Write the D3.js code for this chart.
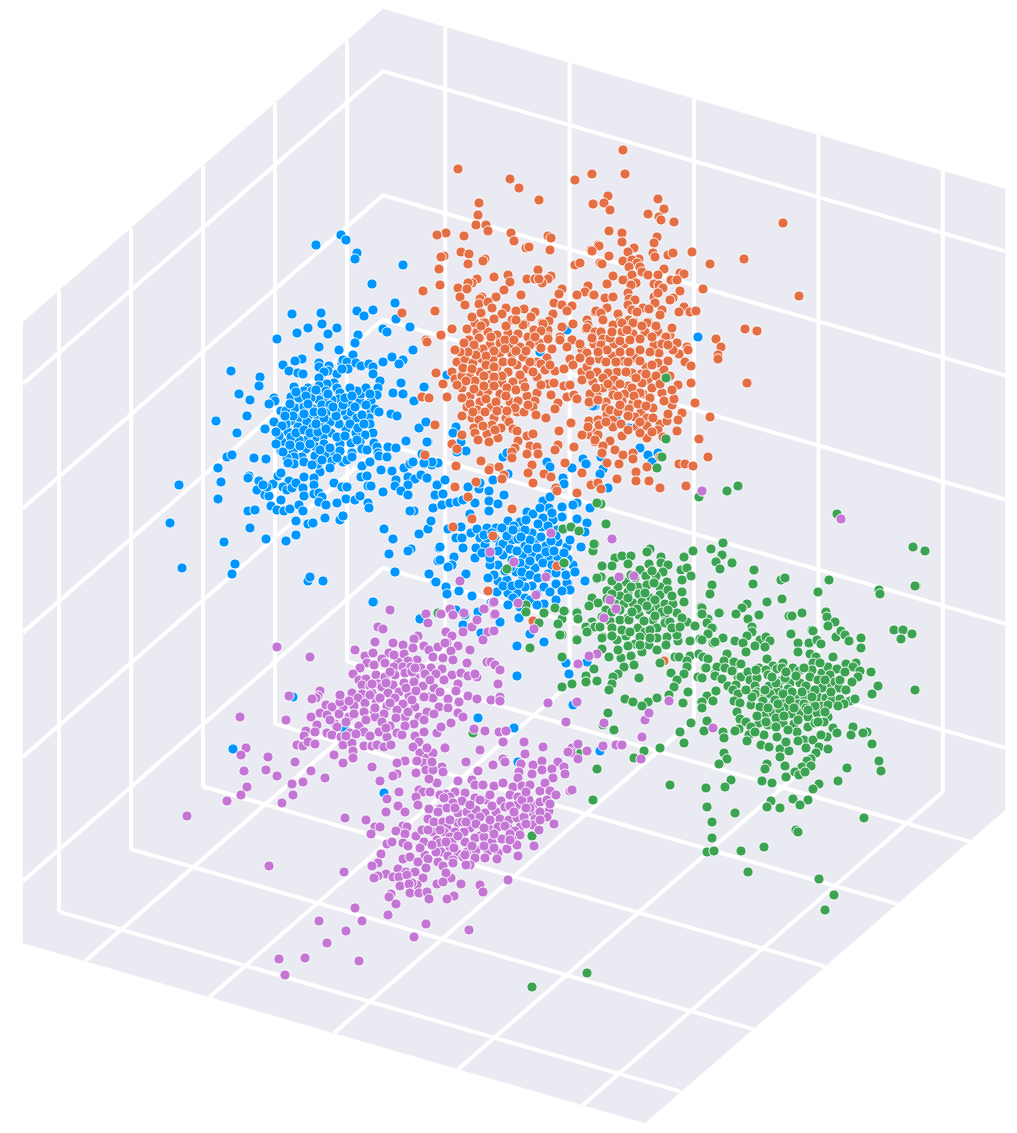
<!DOCTYPE html>
<html>
<head>
<meta charset="utf-8">
<script src="https://cdn.jsdelivr.net/npm/d3@7/dist/d3.min.js"></script>
<style>html,body{margin:0;padding:0;background:#fff}svg{display:block}</style>
</head>
<body>
<div id="chart"></div>
<script>
// Grid tick positions on each of the three box axes (box runs 0..10)
const boxDomain = [0, 10];
const ticksA = [1, 3, 5, 7, 9];
const ticksB = [1, 3, 5, 7, 9];
const ticksC = [1, 3, 5, 7, 9];

// Points as read from the projected view: [across, down] on a 1017 x 1133 plane
const bluePoints = [[316,245],[341,235],[346,240],[357,253],[355,259],[403,265],[372,284],[395,303],[357,311],[373,310],[364,316],[396,319],[292,314],[321,313],[322,324],[308,328],[297,333],[328,334],[337,328],[383,329],[387,332],[410,327],[358,335],[277,339],[355,343],[319,347],[339,350],[353,355],[413,350],[392,357],[403,360],[399,364],[383,362],[302,359],[295,361],[283,365],[231,371],[289,371],[298,373],[303,374],[319,363],[319,367],[329,366],[328,371],[324,372],[337,374],[319,378],[260,377],[259,386],[239,394],[250,400],[294,387],[291,397],[274,398],[275,401],[269,404],[281,411],[286,411],[247,416],[216,421],[274,422],[265,429],[237,433],[291,421],[342,363],[343,360],[347,362],[348,369],[342,369],[356,363],[361,366],[369,364],[373,367],[373,374],[380,381],[378,388],[377,395],[371,401],[360,401],[361,394],[366,388],[357,391],[350,388],[370,394],[349,404],[347,416],[351,412],[342,411],[371,412],[375,409],[379,412],[369,418],[357,418],[370,424],[346,429],[339,424],[330,422],[391,414],[397,416],[393,393],[401,383],[403,394],[414,401],[425,387],[426,422],[419,428],[428,442],[406,441],[373,433],[365,435],[356,433],[374,443],[388,447],[396,448],[422,454],
[334,383],[327,384],[319,386],[308,388],[304,391],[312,391],[319,393],[326,391],[337,388],[340,393],[339,399],[332,400],[325,398],[319,400],[311,398],[303,403],[299,398],[295,408],[304,407],[313,409],[322,405],[330,405],[336,410],[326,413],[318,418],[309,415],[300,418],[307,422],[298,427],[313,427],[322,427],[330,422],[331,433],[323,437],[315,438],[307,440],[299,440],[288,432],[291,437],[282,442],[281,451],[293,452],[306,449],[316,447],[324,444],[340,444],[333,453],[325,455],[315,456],[302,457],[294,457],[287,458],[340,451],[351,443],[360,442],[362,449],[352,453],[367,450],[377,447],[378,453],[357,440],
[283,452],[332,461],[330,468],[320,472],[318,464],[294,464],[288,463],[343,462],[347,460],[352,457],[362,466],[370,462],[379,456],[387,457],[381,470],[392,471],[404,468],[410,464],[413,462],[424,464],[432,465],[438,463],[361,477],[367,476],[368,486],[371,486],[383,492],[396,480],[408,477],[415,479],[427,479],[421,475],[408,485],[395,486],[401,491],[408,495],[435,496],[434,508],[438,485],[414,511],[410,511],[431,521],[428,529],[419,534],[439,548],[438,561],[411,549],[408,551],[393,539],[384,529],[389,554],[395,572],[429,574],[435,582],
[179,485],[170,523],[182,568],[218,468],[221,482],[218,499],[227,457],[232,455],[254,458],[266,459],[249,476],[248,478],[259,481],[273,484],[278,476],[281,473],[257,490],[265,495],[269,496],[267,487],[263,485],[304,477],[314,478],[314,485],[289,481],[283,487],[287,490],[292,488],[296,483],[303,488],[304,496],[314,494],[319,493],[322,497],[319,502],[326,505],[334,483],[342,487],[347,487],[346,499],[337,503],[355,500],[360,496],[368,503],[369,508],[281,500],[271,506],[277,510],[284,511],[290,509],[299,505],[303,511],[248,511],[255,510],[296,521],[308,524],[313,523],[325,518],[340,520],[343,516],[250,528],[224,542],[266,539],[286,541],[296,535],[235,564],[232,574],[308,581],[310,577],[323,581],[374,602],[420,618],
[427,478],[437,485],[445,480],[435,495],[443,494],[433,508],[442,505],[450,503],[457,502],[463,500],[468,487],[479,489],[489,491],[475,503],[489,501],[498,504],[504,495],[493,480],[470,514],[489,511],[431,521],[448,529],[461,527],[456,538],[462,538],[463,548],[440,547],[440,560],[454,557],[452,565],[448,567],[429,574],[466,574],[436,582],[446,587],[459,591],[472,596],[447,594],
[471,533],[477,529],[487,528],[480,538],[476,548],[475,558],[485,545],[487,538],[496,528],[495,538],[500,545],[508,521],[508,531],[520,522],[519,532],[532,533],[527,512],[533,514],[543,518],[543,501],[550,497],[562,507],[549,508],[562,517],[553,520],[542,527],[563,530],[557,530],[558,542],[567,547],[546,546],[535,542],[525,546],[512,540],[518,539],[503,544],[503,555],[498,565],[490,565],[523,555],[532,553],[540,558],[549,558],[535,568],[526,565],[516,572],[558,558],[573,565],[568,559],[498,581],[507,580],[523,577],[532,586],[525,587],[517,593],[508,593],[497,592],[513,598],[525,598],[544,587],[556,584],[568,583],[569,590],[585,581],[544,604],[556,600],[519,618],[500,623],[530,634],[544,642],[517,646],
[590,508],[577,519],[587,523],[581,547],[585,532],[577,503],[573,505],[698,337],[640,448],[648,455],[658,453],[652,462],[583,459],[587,464],[603,469],[600,474],[595,406],[616,417],[629,428],[645,407],[601,457],[597,483],[608,488],
[467,348],[447,375],[567,330],[424,387],[426,422],[456,427],[453,433],[461,442],[466,451],[427,442],[457,452],[432,462],[424,463],[503,457],[507,453],[547,462],[550,467],[572,468],[586,464],[563,478],[564,484],[508,474],[480,483],[555,488],[593,406],[496,404],[540,352],
[293,697],[478,718],[373,602],[500,622],[481,633],[478,612],[491,603],[465,615],[463,625],[456,610],[420,619],[384,793],[518,762],[344,728],[233,749],[517,676],[566,663],[569,674],[587,662],[600,751],[514,728],[573,705],[581,547],[567,583],[570,590]];

const blueCore = [[296,392],[306,396],[316,390],[328,394],[343,405],[336,416],[324,418],[314,412],[304,414],[293,416],[286,424],[296,433],[304,430],[310,433],[318,432],[326,429],[337,437],[345,436],[350,424],[358,428],[362,415],[355,407],[300,446],[310,444],[320,450],[330,448],[290,445],[279,436],[285,416],[290,404],[316,424],[308,404],[322,412],[333,407],[345,398],[352,396],[366,405],[364,424],[304,462],[312,465],[322,460],[337,458],[282,426],[276,444],[276,432],
[484,535],[492,533],[502,528],[514,526],[525,530],[538,524],[548,526],[556,536],[551,541],[541,537],[530,540],[521,537],[507,536],[498,551],[510,549],[517,551],[528,549],[537,548],[546,552],[554,551],[564,553],[570,540],[512,560],[520,563],[530,561],[543,563],[552,565],[562,566],[505,571],[511,567],[522,572],[530,575],[538,578],[548,574],[556,573],[566,575],[575,572],[503,586],[512,586],[519,584],[537,594],[550,592],[562,591],[513,530],[526,520],[552,513],[540,508],[490,558],[482,553],[494,575],[488,578],[530,600],[537,605],[520,607],[508,605]];

const orangePoints = [[458,169],[510,179],[519,188],[539,200],[575,180],[591,174],[594,204],[479,203],[478,215],[476,225],[486,225],[488,231],[446,233],[437,235],[464,236],[511,233],[514,241],[548,236],[551,238],[550,250],[526,248],[529,247],[591,250],[598,245],[461,252],[469,254],[444,256],[441,257],[485,259],[483,261],[468,264],[439,269],[575,265],[580,263],[600,263],[538,270],[508,275],[494,277],[527,279],[551,276],[548,279],[542,283],[535,279],[539,279],[510,282],[477,279],[472,283],[468,283],[440,285],[458,288],[467,289],[423,291],[504,290],[562,289],[559,294],[588,286],[585,292],[577,295],[593,295],[521,295],[460,297],[496,297],[482,297],[480,299],[479,304],[488,302],[465,305],[554,303],[562,305],[572,306],[506,308],[535,312],[524,309],[516,311],[481,313],[435,311],[402,313],[567,311],[553,314],[595,312],[492,308],[502,314],[512,320],[525,324],[542,323],[549,321],[534,330],[573,324],[587,320],[586,329],[597,332],[476,323],[484,322],[467,330],[452,329],[441,336],[426,340],[477,332],[488,332],[498,335],[508,333],[518,334],[528,337],[548,330],[548,337],[572,339],[560,337],[469,339],[480,338],
[623,150],[625,174],[592,174],[608,196],[604,203],[593,204],[610,210],[658,199],[664,209],[648,214],[659,217],[661,220],[674,222],[783,223],[609,231],[622,233],[622,242],[657,237],[654,243],[599,246],[592,251],[634,248],[628,252],[653,253],[655,257],[609,256],[623,261],[602,264],[639,259],[668,255],[673,253],[692,252],[710,264],[744,259],[632,260],[637,263],[629,267],[640,267],[642,272],[648,275],[664,269],[658,275],[613,276],[680,273],[684,274],[671,280],[677,280],[628,279],[623,280],[632,275],[636,283],[631,285],[654,284],[659,285],[663,288],[607,284],[703,289],[680,291],[799,296],[594,295],[605,298],[613,297],[628,293],[629,299],[635,300],[654,297],[658,293],[673,298],[670,300],[655,303],[628,305],[607,308],[684,307],[679,312],[690,312],[696,311],[662,310],[660,315],[643,308],[649,309],[632,310],[637,312],[618,314],[596,311],[601,313],[603,320],[620,322],[629,320],[634,322],[648,322],[656,326],[595,331],[601,331],[613,330],[622,332],[633,333],[645,332],[658,332],[672,328],[670,335],[665,337],[745,329],[756,331],[716,339],[603,338],
[441,335],[452,329],[427,342],[469,340],[479,338],[467,329],[475,323],[485,323],[497,335],[508,333],[518,334],[534,330],[523,325],[543,324],[562,327],[573,324],[597,333],[588,325],[560,340],[572,340],[548,339],[539,343],[530,345],[520,347],[510,347],[500,343],[490,345],[483,349],[475,349],[457,362],[465,359],[473,363],[482,359],[493,359],[500,353],[512,354],[523,357],[537,362],[547,358],[541,364],[567,347],[570,359],[582,350],[593,344],[582,372],[592,381],[597,372],[555,371],[564,369],[573,365],[452,372],[436,373],[455,379],[462,376],[470,377],[480,372],[489,375],[497,367],[508,372],[517,365],[527,369],[537,377],[523,381],[513,382],[502,383],[492,383],[482,381],[443,384],[462,388],[470,396],[480,392],[488,391],[500,394],[510,402],[518,401],[527,396],[537,393],[535,401],[447,397],[422,397],[429,398],[462,398],[467,407],[480,402],[477,410],[491,407],[500,410],[517,412],[524,412],[533,407],[536,415],[548,384],[554,383],[564,386],[570,385],[551,395],[558,403],[555,409],[567,397],[574,395],[577,399],[590,403],[597,394],[472,418],[479,420],[494,418],[506,418],[509,422],[492,425],[501,428],[474,428],[475,433],[487,434],[498,438],[489,442],[478,440],[546,418],[513,429],[517,431],[435,425],[462,435],[452,444],[457,449],[425,455],[527,436],[533,434],[518,441],[559,431],[571,423],[589,421],[588,427],[582,435],[590,435],[597,432],[595,442],[558,445],[555,450],[574,447],[530,446],[537,447],[515,448],[512,452],[527,454],[538,454],[512,458],[456,466],[481,461],[490,468],[499,467],[504,475],[502,479],[532,465],[528,473],[544,474],[551,477],[533,483],[565,463],[582,473],[591,484],[476,482],[556,488],[455,487],
[587,328],[595,332],[601,332],[613,325],[622,323],[633,323],[647,323],[656,326],[672,328],[745,329],[757,331],[716,339],[721,347],[718,355],[718,359],[666,337],[677,343],[687,347],[688,350],[679,354],[685,362],[691,366],[673,350],[668,361],[659,353],[654,345],[645,332],[633,334],[624,344],[614,344],[603,339],[594,344],[587,353],[599,359],[612,356],[623,361],[635,358],[646,367],[658,363],[661,373],[648,380],[641,374],[632,373],[617,372],[608,373],[597,372],[587,367],[582,380],[593,382],[603,388],[613,389],[628,386],[642,383],[652,388],[662,393],[678,385],[691,383],[747,383],[643,394],[625,394],[613,395],[590,394],[589,402],[606,402],[606,408],[622,401],[622,408],[633,403],[641,412],[653,408],[672,405],[674,399],[695,403],[682,413],[710,417],[607,415],[629,409],[635,417],[647,418],[589,421],[598,420],[599,425],[613,420],[613,427],[621,424],[637,427],[647,426],[660,424],[667,421],[678,420],[658,430],[677,431],[582,435],[588,427],[598,435],[595,440],[610,441],[622,436],[647,438],[663,437],[699,439],[603,446],[615,450],[602,453],[623,455],[633,453],[633,459],[607,463],[619,464],[647,467],[660,457],[708,457],[679,464],[685,464],[693,466],[582,473],[636,472],[617,479],[636,481],[649,481],[591,485],[598,483],[660,488],[686,486],
[468,497],[512,509],[472,519],[453,527],[493,536],[488,591],[557,566],[533,621],[557,491],[577,493],[601,489],[489,470],[664,661]];

const orangeCore = [[472,317],[481,326],[494,319],[506,326],[516,320],[531,317],[541,331],[491,337],[474,345],[505,340],[514,340],[535,337],[526,351],[516,351],[505,349],[494,351],[486,356],[476,355],[468,352],[460,352],[463,368],[472,369],[486,365],[494,367],[503,362],[512,362],[530,362],[545,370],[533,372],[520,375],[502,376],[494,377],[484,376],[475,381],[466,381],[457,385],[474,389],[484,386],[494,386],[507,388],[516,390],[525,387],[541,385],[470,404],[486,399],[496,402],[506,396],[515,408],[528,405],[485,412],[497,411],[507,411],[473,412],[462,416],[483,426],[495,430],[455,350],[464,343],[541,348],[552,349],[550,365],
[592,338],[601,345],[610,338],[620,341],[630,340],[640,339],[652,337],[662,344],[650,352],[640,350],[630,352],[620,352],[607,350],[598,352],[590,361],[606,362],[616,362],[628,362],[640,361],[652,365],[664,370],[670,376],[656,376],[646,374],[636,378],[626,372],[614,380],[603,378],[596,388],[608,384],[620,384],[632,388],[640,393],[650,398],[660,384],[664,401],[634,396],[618,396],[598,400],[610,410],[618,412],[628,416],[640,422],[653,418],[620,405],[638,404],[646,406],[606,422],[628,430],[640,433],[652,432],[668,345],[627,330],[642,326],[612,332],[580,358],[590,375],[580,344],[672,390],[668,414]];

const greenPoints = [[595,544],[593,551],[565,563],[650,549],[647,552],[615,558],[622,556],[631,556],[693,551],[711,549],[723,543],[722,555],[716,561],[732,562],[684,557],[661,557],[661,563],[668,565],[602,566],[612,566],[628,564],[649,564],[640,570],[663,572],[681,570],[687,568],[691,576],[602,577],[597,579],[646,576],[656,576],[626,582],[667,582],[682,580],[712,585],[635,578],[638,587],[647,585],[660,587],[607,590],[618,587],[682,592],[710,594],[628,592],[639,594],[650,598],[660,595],[592,598],[598,603],[620,596],[615,604],[624,604],[633,603],[642,602],[657,607],[665,604],[673,604],[684,602],[589,606],[606,610],[565,611],[577,612],[578,619],[701,607],[701,614],[720,613],[736,614],[677,613],[628,618],[639,615],[650,610],[665,615],[620,620],[610,621],[602,617],[653,620],[687,622],[682,618],[708,619],[562,619],[592,622],[587,627],[595,627],[612,628],[629,620],[638,628],[657,628],[665,623],[695,626],[713,628],[588,632],[603,637],[562,635],[617,640],[626,636],[635,644],[628,646],[657,638],[667,637],[678,641],[690,641],[677,635],[700,639],[708,633],[723,638],[716,642],[713,643],[735,641],[577,639],[602,649],[642,652],[649,645],[657,650],[666,645],[675,657],[679,657],[690,656],[699,654],[704,657],[727,654],[725,660],[737,664],[609,657],[631,656],[621,658],[660,663],[634,665],[624,667],[687,661],[687,667],[698,677],[705,668],[717,667],[715,674],[725,668],[733,669],[722,679],[728,686],[735,690],[738,677],[594,669],[562,657],[671,673],[684,674],[586,676],[586,682],[597,681],[572,684],[562,687],[618,674],[613,677],[612,684],[609,690],[639,678],[677,680],[674,687],[716,691],[688,692],[707,696],[669,695],[657,698],[648,702],[625,699],[633,702],[642,706],[683,703],[701,702],[713,701],[734,701],
[601,504],[597,503],[606,524],[594,544],[563,529],[571,527],[579,531],[507,569],[564,563],[602,566],[601,577],[597,578],[526,605],[526,612],[544,613],[555,608],[564,611],[577,613],[578,619],[539,623],[558,624],[560,635],[577,640],[530,648],[592,598],[598,603],[589,606],[586,627],[593,628],[607,591],[595,627],[602,638],[587,632],[666,378],[666,439],[662,457],[657,468],[738,486],[727,491],[699,497],
[716,562],[720,569],[732,563],[754,570],[712,585],[710,594],[753,584],[781,580],[785,578],[829,580],[818,592],[879,590],[880,594],[916,586],[767,602],[782,599],[747,604],[742,608],[702,608],[702,614],[719,613],[736,614],[759,615],[789,616],[792,616],[802,613],[826,612],[827,617],[835,622],[828,626],[748,619],[707,623],[712,628],[708,634],[702,640],[752,627],[752,632],[747,636],[791,634],[812,630],[813,631],[836,637],[841,631],[845,635],[849,641],[861,638],[894,630],[903,630],[912,634],[901,639],[723,638],[715,642],[735,641],[743,643],[760,640],[766,637],[770,641],[755,646],[765,647],[798,643],[809,643],[817,640],[821,644],[861,648],[746,652],[798,652],[810,654],[816,657],[813,663],[833,657],[703,657],[708,659],[727,654],[724,661],[734,662],[741,664],[767,659],[783,663],[773,666],[846,664],[856,663],[853,667],[860,671],[871,672],[858,677],[852,682],[878,686],[915,690],[872,694],[706,668],[717,667],[725,668],[732,671],[715,676],[722,679],[702,678],[741,677],[748,672],[759,668],[766,670],[777,669],[782,668],[793,668],[799,671],[812,670],[822,673],[828,667],[837,669],[830,675],[750,680],[757,678],[768,675],[782,680],[790,683],[800,683],[810,677],[818,680],[831,685],[835,682],[839,688],[728,686],[736,685],[755,686],[769,686],[778,687],[788,689],[810,692],[822,688],[716,691],[733,690],[738,694],[757,692],[777,692],[707,696],[762,699],[770,694],[783,700],[797,697],[805,698],[818,697],[826,698],[832,700],[840,699],[850,701],[855,699],[844,704],[702,702],[713,701],[734,701],[740,703],[751,705],[763,701],[773,704],[787,707],[798,704],[812,704],[822,706],[828,705],[702,708],[737,712],[766,714],[773,713],[780,710],[792,714],[801,713],[817,713],[808,717],[828,717],[707,721],[740,719],[746,722],[774,723],[759,723],[768,725],[783,723],[794,724],[808,727],[815,723],[824,722],[751,727],[833,728],[853,727],[739,729],[735,731],[704,731],[723,732],[724,738],[749,735],[747,741],[797,732],[837,733],[777,737],[804,740],[798,741],[813,740],[827,737],[821,735],[851,735],[867,732],[863,733],[761,745],[769,747],[780,749],[789,751],[806,748],[819,747],[828,749],[816,753],[872,744],[724,753],[727,759],[719,764],[780,757],[811,759],[807,761],[767,764],[765,769],[785,766],[802,767],[811,766],[879,761],[847,768],[881,771],[795,772],[799,775],[805,772],[786,777],[762,781],[772,783],[731,780],[725,787],[706,788],[819,784],[838,781],[813,789],
[707,807],[735,813],[771,801],[767,807],[780,808],[793,799],[808,800],[800,805],[864,818],[712,822],[712,838],[707,852],[714,851],[741,851],[764,847],[796,830],[798,832],[748,872],[819,879],[834,895],[825,910],[587,973],[532,987],[680,732],[691,723],[684,743],[660,748],[644,751],[634,758],[597,769],[593,800],[670,785],[614,730],[603,725],[608,713],[532,836],[473,733],[438,613],[837,514],[913,547],[925,551],[915,586],[578,753]];

const greenCore = [[620,577],[631,575],[652,571],[612,581],[631,587],[654,583],[668,590],[672,596],[612,594],[645,593],[655,600],[607,599],[628,598],[637,609],[647,606],[662,612],[670,622],[644,621],[632,612],[620,610],[612,612],[600,627],[622,630],[630,632],[645,632],[650,630],[672,628],[680,627],[612,636],[640,637],[655,616],[668,610],[618,650],[640,645],[650,638],
[755,694],[765,690],[776,683],[785,678],[796,676],[806,686],[815,690],[825,680],[802,692],[792,692],[783,694],[775,700],[760,707],[768,708],[778,704],[790,700],[804,704],[815,706],[825,712],[838,706],[812,697],[757,716],[766,722],[776,718],[784,716],[794,708],[806,708],[818,722],[788,730],[776,727],[798,720],[808,710],[756,670],[772,677],[786,672],[804,668],[820,663],[831,692],[846,690],[752,697],[746,690],[840,680],[845,672],[764,735],[786,742],[755,732]];

const purplePoints = [[390,610],[426,614],[428,623],[441,614],[450,609],[453,615],[464,613],[472,627],[477,620],[485,609],[494,615],[493,603],[378,627],[383,629],[446,632],[452,636],[463,632],[488,632],[494,631],[483,640],[418,636],[414,639],[375,642],[393,643],[403,645],[413,648],[424,646],[429,650],[438,647],[447,643],[458,646],[451,651],[470,650],[355,650],[310,657],[365,656],[373,653],[389,653],[404,654],[433,657],[443,658],[453,660],[367,663],[382,659],[385,663],[417,660],[398,662],[408,661],[467,663],[487,662],[491,662],[495,665],[500,670],[360,668],[394,667],[403,667],[411,667],[421,668],[431,668],[442,669],[353,674],[376,675],[385,677],[395,675],[405,673],[415,677],[425,674],[436,674],[452,675],[461,673],[468,676],[477,677],[475,674],[359,680],[366,679],[393,685],[404,683],[414,682],[423,686],[378,684],[382,687],[458,684],[498,684],[362,685],[370,686],[399,692],[409,696],[416,691],[434,688],[456,691],[352,693],[362,694],[372,693],[388,693],[320,691],[318,696],[316,698],[312,699],[289,696],[358,698],[376,700],[395,698],[429,697],[433,698],[448,699],[459,702],[468,696],[477,699],[491,700],[500,697],[500,701],[326,705],[332,707],[343,707],[340,702],[354,706],[365,703],[387,706],[403,704],[415,707],[397,710],[439,707],[448,708],[320,713],[311,717],[327,715],[339,714],[349,717],[374,711],[384,714],[419,717],[427,712],[458,713],[463,717],[286,720],[335,724],[317,725],[359,726],[375,717],[405,717],[414,724],[424,720],[451,723],[390,726],[405,726],[337,727],[306,731],[315,732],[304,736],[327,733],[332,735],[350,733],[364,732],[379,732],[397,733],[402,735],[415,736],[424,732],[437,733],[441,727],[474,729],[485,731],[499,732],[506,731],[341,737],[387,737],[297,745],[303,746],[308,742],[315,744],[343,745],[352,743],[353,751],[364,746],[372,746],[377,745],[384,747],[391,745],[419,742],[413,747],[427,747],[445,747],[504,742],[480,750],[334,755],[353,758],[420,753],[432,753],[427,758],[295,762],[343,763],[405,761],[397,763],[416,761],[424,763],[432,762],[442,767],[466,762],[493,765],[503,759],[505,762],[372,767],[311,771],[416,773],[426,770],[433,770],[397,774],[393,776],[325,778],[478,771],[292,784],[303,782],[380,781],[437,783],[458,781],[472,780],[475,785],[483,785],[494,786],[503,783],
[543,747],[524,742],[572,748],[571,753],[578,759],[503,742],[525,754],[445,748],[433,753],[427,748],[417,761],[432,762],[521,764],[533,765],[542,761],[558,762],[564,767],[542,770],[552,769],[565,774],[443,772],[519,772],[518,778],[532,774],[553,778],[429,779],[513,787],[522,786],[530,785],[540,791],[545,783],[550,791],[556,795],[570,791],[572,790],[419,790],[423,792],[430,792],[387,799],[399,792],[416,797],[418,805],[446,794],[465,793],[455,792],[450,797],[475,798],[486,800],[501,801],[510,795],[518,797],[529,800],[537,805],[462,801],[453,803],[398,806],[386,812],[405,812],[429,809],[440,809],[447,808],[505,807],[517,805],[549,811],[458,813],[467,812],[485,813],[476,810],[496,812],[533,813],[547,817],[345,818],[366,820],[428,819],[434,822],[443,822],[458,823],[471,818],[480,817],[500,819],[509,820],[517,818],[524,817],[535,819],[554,824],[375,827],[380,827],[403,826],[407,827],[447,828],[470,828],[489,828],[498,827],[508,828],[520,827],[533,825],[539,830],[371,834],[396,831],[405,834],[416,836],[422,830],[433,832],[444,832],[464,832],[455,832],[480,836],[515,831],[520,835],[450,837],[437,840],[440,843],[465,842],[475,838],[484,837],[492,842],[502,839],[512,839],[387,844],[392,842],[403,843],[408,846],[450,847],[534,846],[517,845],[458,854],[467,852],[476,850],[488,851],[498,853],[507,849],[381,854],[518,856],[441,852],[448,856],[453,860],[463,857],[475,858],[485,858],[497,859],[403,859],[410,857],[418,862],[425,855],[428,859],[438,862],[443,866],[453,863],[470,865],[466,865],[378,863],[372,866],[426,868],[398,869],[406,872],[415,872],[344,872],[386,874],[451,878],[446,873],[423,878],[378,876],[374,878],[393,877],[399,877],[407,875],[400,886],[417,885],[412,883],[409,884],[437,884],[443,882],[461,884],[480,885],[508,880],[483,892],[391,894],[389,897],[410,893],[419,893],[427,892],[429,899],[454,896],[447,899],[396,904],[355,908],[388,915],[362,921],[426,924],
[187,816],[269,866],[277,647],[240,717],[246,748],[241,755],[268,757],[244,771],[266,770],[277,776],[247,787],[227,801],[241,795],[282,803],[293,795],[319,921],[327,943],[346,931],[305,958],[279,959],[285,975],[359,961],[414,937],[469,930],
[548,703],[577,702],[566,722],[604,723],[645,720],[649,713],[642,737],[616,745],[622,745],[641,759],[603,746],[587,751],[578,744],[568,752],[841,519],[702,491],[669,701],[713,728],
[551,533],[490,552],[514,562],[546,577],[460,581],[536,595],[494,602],[484,609],[518,603],[495,614],[604,618],[534,629],[445,643],[612,539],[619,577],[634,576],[610,600],[616,609],[597,654],[589,656],[578,664]];

const purpleCore = [[374,665],[390,672],[412,672],[430,680],[444,680],[406,688],[386,683],[370,695],[380,698],[390,703],[424,697],[440,692],[375,708],[364,712],[354,714],[346,722],[366,720],[382,722],[396,718],[408,712],[434,714],[340,695],[349,701],[372,684],[356,734],[370,736],[386,728],[412,700],[346,736],[330,720],[415,668],[394,655],
[440,795],[470,805],[480,800],[492,806],[510,806],[522,800],[530,808],[540,802],[547,800],[462,822],[476,824],[490,820],[505,826],[514,812],[526,808],[540,812],[455,808],[450,820],[440,830],[452,842],[466,822],[484,828],[494,834],[510,834],[526,824],[438,812],[428,830],[424,842],[436,852],[446,842],[458,836],[472,846],[484,846],[494,848],[432,845],[420,848],[454,848],[465,855],[444,798],[526,792],[540,820],[550,804],[490,795],[510,840]];

const seriesPoints = [bluePoints.concat(blueCore), orangePoints.concat(orangeCore), greenPoints.concat(greenCore), purplePoints.concat(purpleCore)];
const seriesColors = ["#0096FF", "#E56F45", "#3CA353", "#C476D4"];

const width = 1017, height = 1133;
const paneColor = "#EAEAF2";

const svg = d3.select("#chart").append("svg").attr("width", width).attr("height", height);

// Projection of the box: each box axis maps through its own linear scales
const originX = 383, originY = 630;
const aToX = d3.scaleLinear().domain(boxDomain).range([0, -360]);
const aToY = d3.scaleLinear().domain(boxDomain).range([0, 313]);
const bToX = d3.scaleLinear().domain(boxDomain).range([0, 622]);
const bToY = d3.scaleLinear().domain(boxDomain).range([0, 180]);
const cToY = d3.scaleLinear().domain(boxDomain).range([0, -621]);
const project = (a, b, c) => [originX + aToX(a) + bToX(b), originY + aToY(a) + bToY(b) + cToY(c)];
const line = d3.line();
const [lo, hi] = boxDomain;

// Panes: left wall, right wall, floor
const panes = [
  [[hi, lo, lo], [lo, lo, lo], [lo, lo, hi], [hi, lo, hi]],
  [[lo, lo, lo], [lo, hi, lo], [lo, hi, hi], [lo, lo, hi]],
  [[hi, lo, lo], [lo, lo, lo], [lo, hi, lo], [hi, hi, lo]]
];
svg.append("g").selectAll("path").data(panes).join("path")
  .attr("d", d => line(d.map(p => project(...p))) + "Z")
  .attr("fill", paneColor).attr("stroke", paneColor).attr("stroke-width", 0.5);

// Grid lines
const gridLines = [];
ticksA.forEach(t => {
  gridLines.push([[t, lo, lo], [t, lo, hi]]);
  gridLines.push([[t, lo, lo], [t, hi, lo]]);
});
ticksB.forEach(t => {
  gridLines.push([[lo, t, lo], [lo, t, hi]]);
  gridLines.push([[lo, t, lo], [hi, t, lo]]);
});
ticksC.forEach(t => {
  gridLines.push([[hi, lo, t], [lo, lo, t], [lo, hi, t]]);
});
svg.append("g").selectAll("path").data(gridLines).join("path")
  .attr("d", d => line(d.map(p => project(...p))))
  .attr("fill", "none").attr("stroke", "#fff").attr("stroke-width", 4)
  .attr("stroke-linejoin", "miter");

// Scatter marks
const xPlane = d3.scaleLinear().domain([0, 1017]).range([0, width]);
const yPlane = d3.scaleLinear().domain([0, 1133]).range([0, height]);
seriesPoints.forEach((points, i) => {
  svg.append("g").selectAll("circle").data(points).join("circle")
    .attr("cx", d => xPlane(d[0]))
    .attr("cy", d => yPlane(d[1]))
    .attr("r", 5.1)
    .attr("fill", seriesColors[i])
    .attr("stroke", "#fff")
    .attr("stroke-width", 0.9);
});
</script>
</body>
</html>
